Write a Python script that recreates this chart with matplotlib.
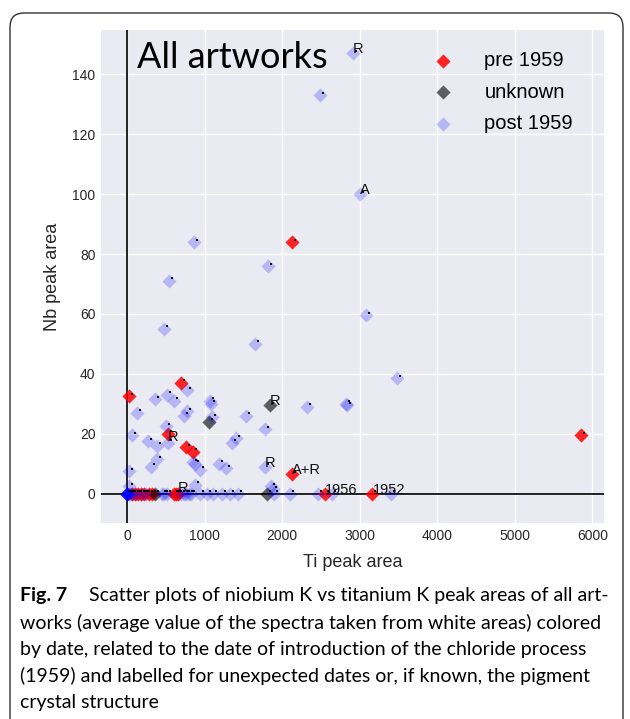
import matplotlib
matplotlib.use('Agg')
import matplotlib.pyplot as plt
from matplotlib.patches import FancyBboxPatch
from matplotlib.transforms import ScaledTranslation, IdentityTransform

# ---------- data ----------
pre_x = [2125, 5850, 20, 690, 530, 760, 845, 2130, 3165, 2550, 660,
         60, 100, 140, 180, 220, 280, 320, 600, 630]
pre_y = [84, 19.5, 32.5, 37, 20, 15.5, 14, 6.5, 0, 0, 0,
         0, 0, 0, 0, 0, 0, 0, 0, 0]

unk_x = [1060, 1840, 360, 1810]
unk_y = [24, 29.5, 0, 0]

post_x = [2910, 2490, 3000, 866, 1820, 545, 3085, 475, 1650, 3480,
          770, 130, 360, 520, 610, 740, 780, 1065, 1080, 1090,
          1530, 2320, 2820, 2840, 70, 500, 530, 275, 390, 310,
          390, 25, 850, 880, 940, 1190, 1275, 1355, 1410, 1785,
          1780, 875, 1860, 1885, 20,
          0, 0, 0, 0, 0, 0, 0, 0, 0, 0, 20, 40, 60, 120, 200, 250, 450, 480,
          520, 700, 730, 760, 800, 830, 940, 1030, 1110, 1220, 1325,
          1430, 1900, 2105, 2465, 2646, 3410]
post_y = [147, 133, 100, 84, 76, 71, 59.5, 55, 50, 38.5,
          34.5, 27, 31.5, 33, 31, 26, 27.5, 31, 30, 25.5,
          26, 29, 30, 29.5, 19.5, 22.5, 17, 17.5, 16, 9,
          11.5, 7.5, 10.5, 10, 8, 10, 8.5, 17, 18.5, 21.5,
          9, 3, 2.5, 1.5, 2.5,
          0, 0, 0, 0, 0, 0, 0, 0, 0, 0, 0, 0, 0, 0, 0, 0, 0, 0,
          0, 0, 0, 0, 0, 0, 0, 0, 0, 0, 0,
          0, 0, 0, 0, 0, 0]

# point labels (text, x, y)
labels = [("R", 2910, 147), ("A", 3000, 100), ("R", 1840, 29.5),
          ("R", 530, 17.5), ("R", 1780, 9), ("A+R", 2130, 6.5),
          ("R", 660, 0.8), ("1956", 2550, 0), ("1952", 3165, 0)]

caption = ["works (average value of the spectra taken from white areas) colored",
           "by date, related to the date of introduction of the chloride process",
           "(1959) and labelled for unexpected dates or, if known, the pigment",
           "crystal structure"]

# ---------- plot ----------
W, H = 630, 719
fig = plt.figure(figsize=(W / 100, H / 100), dpi=100)
ax = fig.add_axes([101 / W, 1 - 523 / H, (604 - 101) / W, (523 - 30) / H])
ax.set_facecolor('#EAEAF2')
for s in ax.spines.values():
    s.set_visible(False)
ax.grid(True, color='white', linewidth=1)
ax.set_axisbelow(True)

ax.axhline(0, color='#222222', lw=1.4, zorder=1)
ax.axvline(0, color='#222222', lw=1.4, zorder=1)

ax.scatter(pre_x, pre_y, marker='D', s=52, color='red', alpha=0.85,
           linewidths=0, label='pre 1959', zorder=3)
ax.scatter(unk_x, unk_y, marker='D', s=52, color='black', alpha=0.6,
           linewidths=0, label='unknown', zorder=3)
ax.scatter(post_x, post_y, marker='D', s=52, color='blue', alpha=0.22,
           linewidths=0, label='post 1959', zorder=3)

# tiny black marks next to every point
off = ax.transData + ScaledTranslation(0.03, 0.025, fig.dpi_scale_trans)
ax.scatter(pre_x + unk_x + post_x, pre_y + unk_y + post_y, marker='s', s=0.8,
           color='black', linewidths=0, transform=off, zorder=4)

for txt, x, y in labels:
    ax.text(x, y, txt, fontsize=10.5, family='Liberation Sans', color='#111111', zorder=5)

ax.text(130, 142, 'All artworks', fontsize=26, family='Lato', color='black')

ax.set_xlim(-335, 6150)
ax.set_ylim(-9.7, 154.7)
ax.set_xticks(range(0, 6001, 1000))
ax.set_yticks(range(0, 141, 20))
ax.tick_params(length=0, labelsize=10, colors='#262626', pad=4)
for lab in ax.get_xticklabels() + ax.get_yticklabels():
    lab.set_family('Liberation Sans')
ax.set_xlabel('Ti peak area', fontsize=13, family='Liberation Sans', color='#262626', labelpad=8)
ax.set_ylabel('Nb peak area', fontsize=13, family='Liberation Sans', color='#262626', labelpad=8)

leg = ax.legend(loc='upper left', bbox_to_anchor=(0.624, 0.974), frameon=False,
                prop={'family': 'Liberation Sans', 'size': 14.5},
                handlelength=2.0, handletextpad=1.05, labelspacing=0.63,
                borderaxespad=0, scatterpoints=1)

# ---------- caption and frame ----------
fig.text(20 / W, 1 - 596 / H, 'Fig. 7', fontsize=14, family='Lato', weight='bold',
         va='center')
fig.text(89 / W, 1 - 596 / H, 'Scatter plots of niobium K vs titanium K peak areas of all art-',
         fontsize=14, family='Lato', va='center')
for i, line in enumerate(caption):
    fig.text(20 / W, 1 - (623 + 26.5 * i) / H, line, fontsize=14, family='Lato', va='center')

frame = FancyBboxPatch((10, -30), 613, H - 13 + 30, boxstyle='round,pad=0,rounding_size=14',
                       transform=IdentityTransform(), fill=False, ec='#333333', lw=1)
fig.patches.append(frame)

plt.savefig('out.png', dpi=100)
